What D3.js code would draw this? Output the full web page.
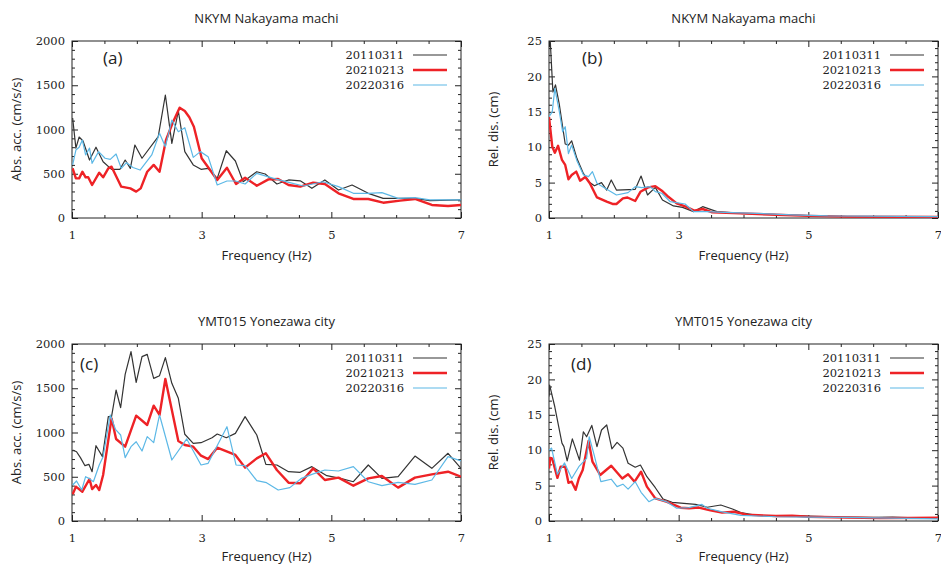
<!DOCTYPE html>
<html>
<head>
<meta charset="utf-8">
<script src="https://cdn.jsdelivr.net/npm/d3@7"></script>
<style>
  body { margin: 0; background: #fff; }
  svg { display: block; }
  .title, .axis-title, .panel-label { font-family: "Open Sans", "Noto Sans", sans-serif; fill: #222; }
  .tick text, .legend text { font-family: "DejaVu Serif", serif; fill: #222; }
</style>
</head>
<body>
<div id="chart"></div>
<script>
// frequency (Hz) / value pairs
const seriesNames = ["20110311", "20210213", "20220316"];
const seriesColors = ["#333333", "#ee2226", "#5cb8e6"];
const seriesWidths = [1.2, 2.4, 1.2];

// (a) NKYM absolute acceleration (cm/s/s)
const nkymAcc2011 = [[1.01,1130],[1.06,790],[1.11,915],[1.17,870],[1.27,655],[1.37,800],[1.48,636],[1.61,550],[1.74,550],[1.82,655],[1.90,560],[1.97,825],[2.08,675],[2.33,920],[2.44,1390],[2.54,844],[2.64,1209],[2.74,750],[2.87,600],[2.99,550],[3.10,560],[3.24,448],[3.38,760],[3.52,644],[3.64,410],[3.85,523],[3.98,497],[4.16,384],[4.34,430],[4.52,420],[4.70,335],[4.90,430],[5.11,316],[5.32,373],[5.57,279],[5.80,222],[6.06,222],[6.29,222],[6.52,196],[7.0,205]];
const nkymAcc2021 = [[1.01,561],[1.06,448],[1.11,448],[1.16,523],[1.21,460],[1.25,460],[1.31,373],[1.42,512],[1.48,460],[1.56,561],[1.61,580],[1.76,354],[1.90,335],[1.99,298],[2.06,335],[2.16,523],[2.26,600],[2.35,523],[2.45,881],[2.55,1070],[2.66,1247],[2.74,1209],[2.81,1138],[2.88,1032],[3.0,675],[3.13,542],[3.24,430],[3.39,568],[3.53,384],[3.67,456],[3.85,365],[4.03,437],[4.18,440],[4.34,373],[4.52,354],[4.72,399],[4.90,384],[5.11,279],[5.34,215],[5.57,215],[5.80,173],[6.06,196],[6.29,215],[6.55,147],[6.80,136],[7.0,147]];
const nkymAcc2022 = [[1.01,600],[1.06,768],[1.11,800],[1.16,881],[1.21,712],[1.27,790],[1.31,618],[1.41,750],[1.51,675],[1.59,663],[1.68,723],[1.76,561],[1.84,625],[1.94,570],[2.05,542],[2.23,712],[2.35,957],[2.44,806],[2.54,1107],[2.64,975],[2.74,1020],[2.87,685],[2.98,750],[3.10,693],[3.24,373],[3.39,418],[3.52,418],[3.67,384],[3.85,505],[4.16,437],[4.36,399],[4.57,362],[4.87,410],[5.11,354],[5.34,279],[5.57,279],[5.78,286],[6.03,222],[6.29,230],[6.52,205],[7.0,205]];

// (b) NKYM relative displacement (cm)
const nkymDis2011 = [[1.0,26],[1.02,24.9],[1.06,17.8],[1.10,18.8],[1.16,16],[1.25,10.45],[1.30,10.3],[1.35,10.9],[1.43,8.43],[1.53,6.3],[1.63,5.0],[1.70,4.55],[1.81,5.0],[1.89,3.95],[1.96,5.37],[2.04,3.95],[2.33,4.05],[2.42,5.93],[2.52,3.25],[2.64,4.33],[2.75,2.54],[2.92,1.7],[3.06,1.5],[3.23,0.9],[3.37,1.6],[3.59,0.9],[3.95,0.66],[4.4,0.5],[5.0,0.33],[5.6,0.2],[7.0,0.15]];
const nkymDis2021 = [[1.0,14.3],[1.05,10.1],[1.09,9.2],[1.14,10.2],[1.20,8.2],[1.25,7.5],[1.30,5.46],[1.35,6.07],[1.42,6.55],[1.48,5.27],[1.56,5.8],[1.63,4.9],[1.74,2.9],[1.89,2.3],[1.98,1.98],[2.04,1.98],[2.14,2.78],[2.21,2.9],[2.33,2.4],[2.41,3.7],[2.53,4.33],[2.64,4.5],[2.74,3.86],[2.84,3.0],[2.97,2.07],[3.11,1.6],[3.24,1.04],[3.37,1.27],[3.52,0.8],[3.95,0.66],[4.5,0.45],[5.0,0.3],[5.6,0.2],[7.0,0.15]];
const nkymDis2022 = [[1.0,14.3],[1.05,15],[1.09,18.3],[1.16,15],[1.21,12.2],[1.25,12.9],[1.30,9.1],[1.35,10.3],[1.43,8.1],[1.53,6.1],[1.61,5.84],[1.67,6.55],[1.74,4.9],[1.84,4.33],[2.04,3.25],[2.22,3.58],[2.33,4.43],[2.43,4.3],[2.56,4.43],[2.64,3.72],[2.74,3.5],[2.87,2.3],[3.10,1.98],[3.23,0.9],[3.43,0.9],[3.7,0.8],[4.2,0.66],[4.75,0.45],[5.3,0.3],[7.0,0.2]];

// (c) YMT015 absolute acceleration (cm/s/s)
const ymtAcc2011 = [[1.01,802],[1.07,783],[1.13,716],[1.20,625],[1.26,640],[1.31,557],[1.37,851],[1.47,727],[1.56,1179],[1.61,1179],[1.68,1480],[1.75,1280],[1.82,1657],[1.91,1913],[1.99,1567],[2.08,1857],[2.16,1883],[2.26,1612],[2.35,1642],[2.44,1846],[2.54,1556],[2.64,1386],[2.74,980],[2.87,878],[2.99,885],[3.16,941],[3.24,983],[3.38,941],[3.52,990],[3.67,1179],[3.85,972],[3.99,640],[4.16,633],[4.34,557],[4.52,550],[4.70,614],[4.93,512],[5.14,482],[5.34,444],[5.57,633],[5.78,482],[6.03,501],[6.29,734],[6.55,595],[6.80,765],[7.0,595]];
const ymtAcc2021 = [[1.01,301],[1.06,388],[1.16,331],[1.27,475],[1.31,361],[1.37,407],[1.42,350],[1.48,520],[1.61,1160],[1.68,927],[1.82,840],[1.99,1190],[2.16,1085],[2.26,1303],[2.35,1198],[2.44,1605],[2.54,1254],[2.64,904],[2.74,859],[2.87,840],[2.99,738],[3.10,700],[3.24,828],[3.52,746],[3.67,603],[3.85,708],[3.99,765],[4.16,576],[4.34,433],[4.52,426],[4.72,595],[4.90,463],[5.11,490],[5.34,399],[5.57,482],[5.78,508],[6.03,377],[6.29,490],[6.55,527],[6.80,557],[7.0,501]];
const ymtAcc2022 = [[1.01,407],[1.07,452],[1.15,350],[1.21,501],[1.26,482],[1.33,444],[1.42,633],[1.48,727],[1.59,1198],[1.67,1036],[1.75,972],[1.82,716],[1.91,840],[1.99,896],[2.08,791],[2.16,953],[2.26,885],[2.35,1198],[2.54,689],[2.77,927],[2.99,633],[3.10,652],[3.39,1066],[3.53,633],[3.67,625],[3.85,456],[4.0,433],[4.18,350],[4.36,377],[4.54,482],[4.70,527],[4.90,576],[5.11,565],[5.34,614],[5.57,444],[5.78,399],[6.03,437],[6.29,414],[6.55,463],[6.80,727],[7.0,678]];

// (d) YMT015 relative displacement (cm)
const ymtDis2011 = [[1.0,17.6],[1.01,19.2],[1.09,16.1],[1.20,11.0],[1.23,10.5],[1.28,8.5],[1.36,11.6],[1.47,8.6],[1.53,12.6],[1.58,11.9],[1.66,13.5],[1.74,10.5],[1.81,12.85],[1.89,13.56],[1.97,10.2],[2.05,11.1],[2.14,10.3],[2.22,8.15],[2.33,7.6],[2.41,7.9],[2.51,6.26],[2.64,4.7],[2.76,3.1],[2.90,2.64],[3.08,2.5],[3.26,2.35],[3.44,1.94],[3.65,2.26],[3.83,1.7],[3.96,1.18],[4.2,0.8],[4.5,0.7],[4.75,0.75],[5.0,0.7],[5.5,0.55],[6.0,0.5],[6.3,0.55],[7.0,0.35]];
const ymtDis2021 = [[1.0,7.4],[1.02,8.9],[1.05,8.8],[1.13,6.1],[1.18,7.67],[1.25,7.67],[1.30,5.4],[1.35,5.55],[1.41,4.4],[1.46,6.0],[1.52,7.2],[1.61,11.3],[1.67,8.4],[1.79,6.5],[1.96,7.8],[2.13,6.0],[2.22,6.6],[2.32,5.55],[2.42,6.96],[2.51,4.85],[2.64,3.2],[2.82,2.7],[3.03,1.88],[3.16,1.8],[3.31,1.9],[3.49,1.5],[3.67,1.18],[3.85,1.3],[4.05,0.9],[4.5,0.7],[4.75,0.75],[5.0,0.6],[5.6,0.5],[6.1,0.4],[7.0,0.45]];
const ymtDis2022 = [[1.0,10.0],[1.04,10.3],[1.13,6.6],[1.24,8.2],[1.35,6.0],[1.46,7.67],[1.58,8.85],[1.62,11.9],[1.69,9.55],[1.80,5.55],[1.96,5.9],[2.05,4.85],[2.14,5.2],[2.22,4.5],[2.33,5.55],[2.42,4.05],[2.54,2.73],[2.64,3.2],[2.82,2.7],[2.97,1.8],[3.16,1.88],[3.36,2.35],[3.44,1.8],[3.67,1.3],[3.96,0.8],[4.5,0.6],[5.0,0.55],[5.6,0.5],[7.0,0.3]];

const panels = [
  { title: "NKYM Nakayama machi", label: "(a)", yTitle: "Abs. acc. (cm/s/s)", yMax: 2000, yMajor: 500, yMinor: 100,
    left: 72, top: 41, labelX: 31, labelY: 17, xTitleY: 42, data: [nkymAcc2011, nkymAcc2021, nkymAcc2022] },
  { title: "NKYM Nakayama machi", label: "(b)", yTitle: "Rel. dis. (cm)", yMax: 25, yMajor: 5, yMinor: 1,
    left: 549, top: 41, labelX: 33, labelY: 17, xTitleY: 42, data: [nkymDis2011, nkymDis2021, nkymDis2022] },
  { title: "YMT015 Yonezawa city", label: "(c)", yTitle: "Abs. acc. (cm/s/s)", yMax: 2000, yMajor: 500, yMinor: 100,
    left: 72, top: 344, labelX: 8, labelY: 20, xTitleY: 40, data: [ymtAcc2011, ymtAcc2021, ymtAcc2022] },
  { title: "YMT015 Yonezawa city", label: "(d)", yTitle: "Rel. dis. (cm)", yMax: 25, yMajor: 5, yMinor: 1,
    left: 549, top: 344, labelX: 22, labelY: 20, xTitleY: 40, data: [ymtDis2011, ymtDis2021, ymtDis2022] }
];

const W = 941, H = 566;
const pw = 389, ph = 177;

const svg = d3.select("#chart").append("svg")
  .attr("width", W)
  .attr("height", H);

panels.forEach((p, pi) => {
  const g = svg.append("g").attr("transform", `translate(${p.left},${p.top})`);

  const x = d3.scaleLinear().domain([1, 7]).range([0, pw]);
  const y = d3.scaleLinear().domain([0, p.yMax]).range([ph, 0]);

  const xMajor = [1, 3, 5, 7];
  const xMinor = d3.range(1, 7.001, 0.5).filter(v => !xMajor.includes(v));
  const yMajor = d3.range(0, p.yMax + 0.001, p.yMajor);
  const yMinor = d3.range(0, p.yMax + 0.001, p.yMinor).filter(v => Math.abs(v / p.yMajor - Math.round(v / p.yMajor)) > 1e-6);

  const clipId = "clip" + pi;
  g.append("clipPath").attr("id", clipId)
    .append("rect").attr("width", pw).attr("height", ph);

  // ticks, all pointing inward
  g.append("g").attr("class", "axis").attr("transform", `translate(0,${ph})`)
    .call(d3.axisBottom(x).tickValues(xMajor).tickSizeInner(-6).tickSizeOuter(0).tickPadding(13).tickFormat(d3.format("d")));
  g.append("g").attr("transform", `translate(0,${ph})`)
    .call(d3.axisBottom(x).tickValues(xMinor).tickSizeInner(-3).tickSizeOuter(0).tickFormat(""));
  g.append("g")
    .call(d3.axisTop(x).tickValues(xMajor).tickSizeInner(-6).tickSizeOuter(0).tickFormat(""));
  g.append("g")
    .call(d3.axisTop(x).tickValues(xMinor).tickSizeInner(-3).tickSizeOuter(0).tickFormat(""));
  g.append("g")
    .call(d3.axisLeft(y).tickValues(yMajor).tickSizeInner(-6).tickSizeOuter(0).tickPadding(7).tickFormat(d3.format("d")));
  g.append("g")
    .call(d3.axisLeft(y).tickValues(yMinor).tickSizeInner(-3).tickSizeOuter(0).tickFormat(""));
  g.append("g").attr("transform", `translate(${pw},0)`)
    .call(d3.axisRight(y).tickValues(yMajor).tickSizeInner(-6).tickSizeOuter(0).tickFormat(""));
  g.append("g").attr("transform", `translate(${pw},0)`)
    .call(d3.axisRight(y).tickValues(yMinor).tickSizeInner(-3).tickSizeOuter(0).tickFormat(""));

  g.selectAll(".domain").remove();
  g.selectAll(".tick line").attr("stroke", "#222").attr("stroke-width", 1);
  g.selectAll(".tick text").style("font-size", "11.5px");

  g.append("rect")
    .attr("width", pw)
    .attr("height", ph)
    .attr("fill", "none")
    .attr("stroke", "#222")
    .attr("stroke-width", 1);

  // series
  const line = d3.line().x(d => x(d[0])).y(d => y(d[1]));
  const lines = g.append("g").attr("clip-path", `url(#${clipId})`);
  p.data.forEach((s, i) => {
    lines.append("path")
      .datum(s)
      .attr("fill", "none")
      .attr("stroke", seriesColors[i])
      .attr("stroke-width", seriesWidths[i])
      .attr("stroke-linejoin", "round")
      .attr("d", line);
  });

  // legend
  const legend = g.append("g").attr("class", "legend");
  seriesNames.forEach((name, i) => {
    const ly = 14 + i * 15;
    legend.append("text")
      .attr("x", 332)
      .attr("y", ly)
      .attr("dy", "0.35em")
      .attr("text-anchor", "end")
      .style("font-size", "11.5px")
      .text(name);
    legend.append("line")
      .attr("x1", 341).attr("x2", 375)
      .attr("y1", ly).attr("y2", ly)
      .attr("stroke", seriesColors[i])
      .attr("stroke-width", seriesWidths[i]);
  });

  g.append("text")
    .attr("class", "panel-label")
    .attr("x", p.labelX)
    .attr("y", p.labelY)
    .attr("dy", "0.35em")
    .style("font-size", "17px")
    .text(p.label);

  // titles
  g.append("text")
    .attr("class", "title")
    .attr("x", pw / 2)
    .attr("y", -18)
    .attr("text-anchor", "middle")
    .style("font-size", "13px")
    .text(p.title);

  g.append("text")
    .attr("class", "axis-title")
    .attr("x", pw / 2)
    .attr("y", ph + p.xTitleY)
    .attr("text-anchor", "middle")
    .style("font-size", "13px")
    .text("Frequency (Hz)");

  g.append("text")
    .attr("class", "axis-title")
    .attr("transform", `translate(-51,${ph / 2}) rotate(-90)`)
    .attr("text-anchor", "middle")
    .style("font-size", "13px")
    .text(p.yTitle);
});
</script>
</body>
</html>
